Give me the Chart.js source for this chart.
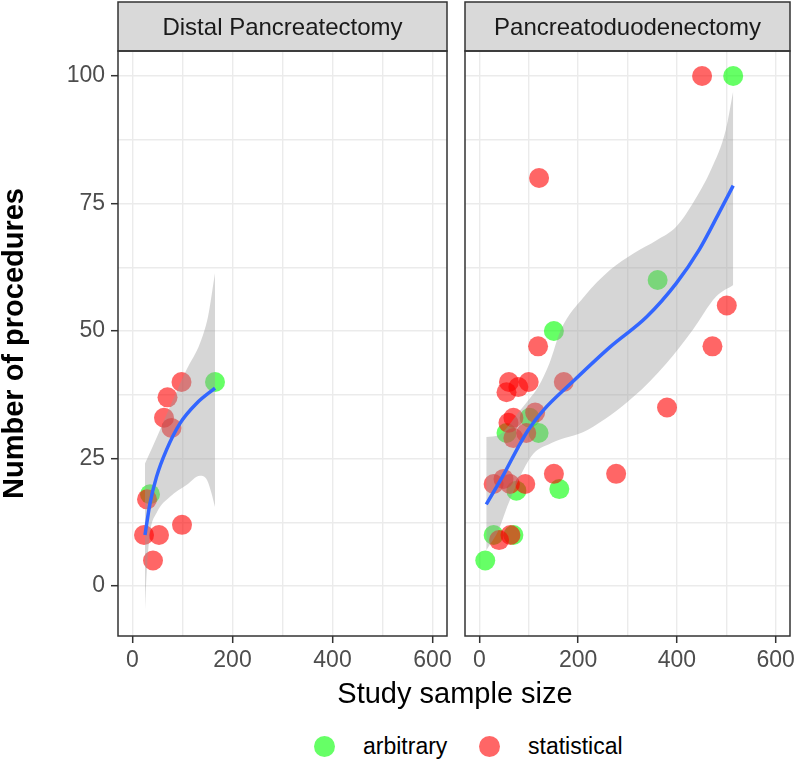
<!DOCTYPE html>
<html lang="en">
<head>
<meta charset="UTF-8">
<title>Number of procedures vs study sample size</title>
<script src="https://cdn.jsdelivr.net/npm/chart.js"></script>
<style>
  body { margin: 0; background: #fff; width: 800px; height: 761px; position: relative; overflow: hidden;
         font-family: "Liberation Sans", Arial, sans-serif; }
  canvas { position: absolute; top: 0; }
  #leftPanel { left: 0; }
  #rightPanel { left: 455px; }
  .xtitle { position: absolute; left: 255px; width: 400px; top: 676px; text-align: center;
            font-size: 29px; line-height: 34px; color: #000; }
  .key { position: absolute; width: 21px; height: 21px; border-radius: 50%; top: 736px; }
  .keytext { position: absolute; top: 733px; font-size: 23px; line-height: 26px; color: #000; }
</style>
</head>
<body>
<canvas id="leftPanel" width="460" height="680"></canvas>
<canvas id="rightPanel" width="345" height="680"></canvas>
<div class="xtitle">Study sample size</div>
<div class="key" style="left:314px; background: rgba(0,255,0,0.6);"></div>
<div class="keytext" style="left:363px;">arbitrary</div>
<div class="key" style="left:479px; background: rgba(255,0,0,0.6);"></div>
<div class="keytext" style="left:528px;">statistical</div>

<script>
// ---- data ----
const panelTitles = ['Distal Pancreatectomy', 'Pancreatoduodenectomy'];

// Distal pancreatectomy
const dpArbX = [35, 165];
const dpArbY = [18, 40];
const dpStatX = [98, 70, 63, 78, 29, 23, 53, 99, 41];
const dpStatY = [40, 37, 33, 31, 17, 10, 10, 12, 5];
const dpFitX = [25, 35, 48, 68, 95, 128, 165];
const dpFitY = [10, 16.2, 21.4, 26.7, 31.9, 35.8, 38.8];
const dpUpX = [25, 55, 81, 108, 135, 151, 165];
const dpUpY = [24, 30.6, 36.5, 42.4, 47.6, 52.8, 61.3];
const dpLoX = [25, 29, 35, 48, 75, 108, 135, 149, 158, 165];
const dpLoY = [-4.7, 3.8, 10.3, 14.3, 17.5, 19.8, 21.6, 20.8, 18.2, 15.5];

// Pancreatoduodenectomy
const pdArbX = [514, 361, 151, 102, 55, 120, 162, 75, 29, 69, 12];
const pdArbY = [100, 60, 50, 33, 30, 30, 19, 18.7, 10, 10, 5];
const pdStatX = [451, 121, 501, 119, 472, 60, 100, 79, 55, 171, 380, 113, 69, 59, 95, 69, 151, 277, 29, 49, 62, 93, 40, 63];
const pdStatY = [100, 80, 55, 47, 47, 40, 40, 39, 38, 40, 35, 34, 33, 32, 30, 29, 22, 22, 20, 21, 20, 20, 9, 10];
const pdFitX = [14, 50, 79, 99, 130, 185, 265, 339, 399, 445, 485, 514];
const pdFitY = [16, 22, 27.3, 30.6, 34.5, 39.7, 46.9, 52.8, 59.4, 65.9, 73.1, 78.5];
const pdUpX = [14, 40, 60, 79, 100, 119, 142, 165, 212, 265, 312, 359, 399, 432, 469, 499, 514];
const pdUpY = [29.2, 29.6, 31.5, 34, 36.5, 39, 43.7, 50.2, 56.7, 62, 65.2, 67.8, 70.5, 75, 81.6, 89.4, 97];
const pdLoX = [14, 39, 59, 105, 145, 219, 312, 379, 432, 479, 514];
const pdLoY = [7, 11, 16.2, 25.4, 28, 30.6, 37.1, 43.7, 50.2, 56.7, 59];

const xTicksShown = [0, 200, 400, 600];
const yTicksShown = [0, 25, 50, 75, 100];

// ---- helpers ----
const pts = (xs, ys) => xs.map((x, i) => ({ x: x, y: ys[i] }));
const FONT = '"Liberation Sans", Arial, sans-serif';

function panelPlugin(title) {
  return {
    id: 'panelDeco',
    afterDraw(chart) {
      const a = chart.chartArea;
      const c = chart.ctx;
      c.save();
      // strip
      c.fillStyle = '#D9D9D9';
      c.fillRect(a.left, 2, a.right - a.left, a.top - 2);
      c.strokeStyle = '#333333';
      c.lineWidth = 1.5;
      c.strokeRect(a.left, 2, a.right - a.left, a.top - 2);
      c.fillStyle = '#1A1A1A';
      c.font = '24px ' + FONT;
      c.textAlign = 'center';
      c.textBaseline = 'middle';
      c.fillText(title, (a.left + a.right) / 2, 28);
      // panel border
      c.strokeRect(a.left, a.top, a.right - a.left, a.bottom - a.top);
      c.restore();
    }
  };
}

function makePanel(id, title, arb, stat, fit, up, lo, showY, padding) {
  new Chart(document.getElementById(id), {
    type: 'scatter',
    data: {
      datasets: [
        { type: 'line', label: 'fit', data: fit, borderColor: '#3366FF', borderWidth: 3.5,
          pointRadius: 0, cubicInterpolationMode: 'monotone', fill: false },
        { type: 'line', label: 'upper', data: up, borderWidth: 0, borderColor: 'rgba(0,0,0,0)',
          pointRadius: 0, cubicInterpolationMode: 'monotone', fill: '+1',
          backgroundColor: 'rgba(153,153,153,0.4)' },
        { type: 'line', label: 'lower', data: lo, borderWidth: 0, borderColor: 'rgba(0,0,0,0)',
          pointRadius: 0, cubicInterpolationMode: 'monotone', fill: false },
        { label: 'statistical', data: stat, backgroundColor: 'rgba(255,0,0,0.6)',
          borderWidth: 0, pointRadius: 10 },
        { label: 'arbitrary', data: arb, backgroundColor: 'rgba(0,255,0,0.6)',
          borderWidth: 0, pointRadius: 10 }
      ]
    },
    options: {
      responsive: false,
      animation: false,
      devicePixelRatio: 1,
      layout: { padding: padding },
      plugins: { legend: { display: false }, tooltip: { enabled: false } },
      scales: {
        x: {
          type: 'linear', min: -29, max: 629,
          border: { display: false },
          grid: {
            color: '#EBEBEB', lineWidth: 1.4, tickLength: 7, tickWidth: 1.5,
            tickColor: ctx => (ctx.tick && xTicksShown.includes(ctx.tick.value)) ? '#333333' : 'rgba(0,0,0,0)'
          },
          ticks: {
            stepSize: 100, autoSkip: false, maxRotation: 0, includeBounds: false, padding: 4,
            color: '#4D4D4D', font: { family: FONT, size: 23 },
            callback: v => xTicksShown.includes(v) ? String(v) : ''
          },
          afterFit: s => { s.height = 44; }
        },
        y: {
          type: 'linear', min: -9.8, max: 104.9,
          border: { display: false },
          grid: {
            color: '#EBEBEB', lineWidth: 1.4, drawTicks: showY, tickLength: 7, tickWidth: 1.5,
            tickColor: ctx => (ctx.tick && yTicksShown.includes(ctx.tick.value)) ? '#333333' : 'rgba(0,0,0,0)'
          },
          ticks: {
            display: showY, stepSize: 12.5, autoSkip: false, includeBounds: false, padding: 6,
            color: '#4D4D4D', font: { family: FONT, size: 23 },
            callback: v => yTicksShown.includes(v) ? String(v) : ''
          },
          title: {
            display: showY, text: 'Number of procedures', color: '#000',
            font: { family: FONT, size: 29, weight: 'bold', lineHeight: 1 },
            padding: { top: 0, bottom: 0 }
          },
          afterFit: s => { s.width = showY ? 118 : 0; }
        }
      }
    },
    plugins: [panelPlugin(title)]
  });
}

makePanel('leftPanel', panelTitles[0], pts(dpArbX, dpArbY), pts(dpStatX, dpStatY),
  pts(dpFitX, dpFitY), pts(dpUpX, dpUpY), pts(dpLoX, dpLoY), true,
  { top: 51, left: 0, right: 13, bottom: 0 });

makePanel('rightPanel', panelTitles[1], pts(pdArbX, pdArbY), pts(pdStatX, pdStatY),
  pts(pdFitX, pdFitY), pts(pdUpX, pdUpY), pts(pdLoX, pdLoY), false,
  { top: 51, left: 8, right: 8, bottom: 0 });
</script>
</body>
</html>
